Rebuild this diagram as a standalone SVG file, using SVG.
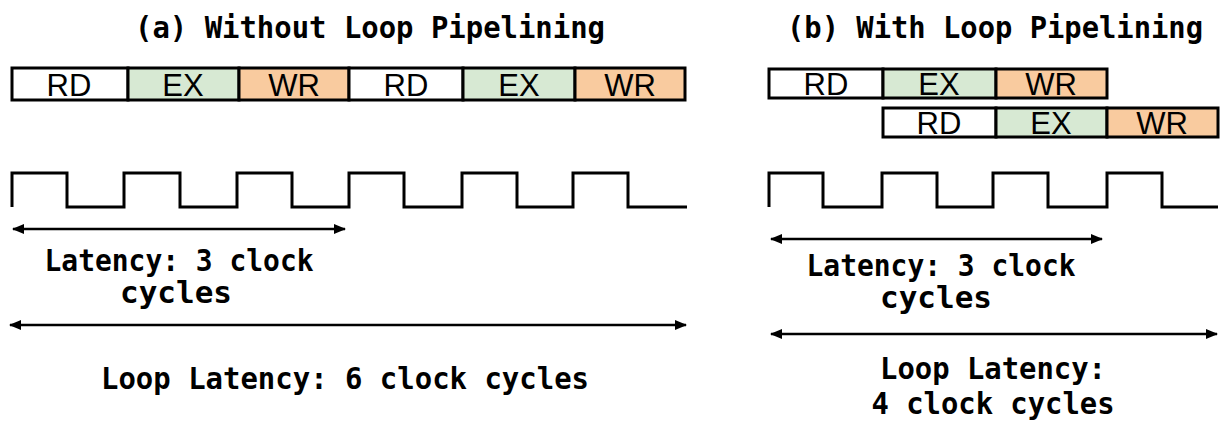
<svg xmlns="http://www.w3.org/2000/svg" width="1221" height="423" viewBox="0 0 1221 423">
<style>
.t{font-family:"DejaVu Sans Mono","Liberation Mono",monospace;font-weight:bold;font-size:30px;fill:#000;text-anchor:middle}
.s{font-family:"Liberation Sans",Arial,sans-serif;font-size:31px;fill:#000;text-anchor:middle}
.b{stroke:#000;stroke-width:3}
.rd{fill:#fff}.ex{fill:#d7e9d3}.wr{fill:#f9cb9f}
.clk{fill:none;stroke:#000;stroke-width:3}
.ar{stroke:#000;stroke-width:2.5;fill:none;marker-start:url(#ah);marker-end:url(#ah)}
</style>
<defs>
<marker id="ah" viewBox="0 0 12 10" refX="11" refY="5" markerWidth="12" markerHeight="10" markerUnits="userSpaceOnUse" orient="auto-start-reverse">
<path d="M0,0 L12,5 L0,10 Z" fill="#000"/>
</marker>
</defs>
<rect width="1221" height="423" fill="#fff"/>
<text class="t" x="370" y="38" textLength="470" lengthAdjust="spacingAndGlyphs">(a) Without Loop Pipelining</text>
<text class="t" x="995" y="38" textLength="416" lengthAdjust="spacingAndGlyphs">(b) With Loop Pipelining</text>

<g id="a-stages">
<rect class="b rd" x="12" y="68" width="116" height="32"/>
<rect class="b ex" x="128" y="68" width="111" height="32"/>
<rect class="b wr" x="239" y="68" width="110" height="32"/>
<rect class="b rd" x="349" y="68" width="114" height="32"/>
<rect class="b ex" x="463" y="68" width="112" height="32"/>
<rect class="b wr" x="575" y="68" width="110" height="32"/>
<text class="s" x="69" y="96">RD</text>
<text class="s" x="183" y="96">EX</text>
<text class="s" x="294" y="96">WR</text>
<text class="s" x="406" y="96">RD</text>
<text class="s" x="519" y="96">EX</text>
<text class="s" x="630" y="96">WR</text>
</g>

<g id="b-stages-1">
<rect class="b rd" x="769" y="69" width="114" height="29"/>
<rect class="b ex" x="883" y="69" width="113" height="29"/>
<rect class="b wr" x="996" y="69" width="111" height="29"/>
<text class="s" x="826" y="95">RD</text>
<text class="s" x="939" y="95">EX</text>
<text class="s" x="1051" y="95">WR</text>
</g>
<g id="b-stages-2">
<rect class="b rd" x="883" y="108" width="113" height="29"/>
<rect class="b ex" x="996" y="108" width="111" height="29"/>
<rect class="b wr" x="1107" y="108" width="111" height="29"/>
<text class="s" x="939" y="134">RD</text>
<text class="s" x="1051" y="134">EX</text>
<text class="s" x="1162" y="134">WR</text>
</g>

<g id="a-clock">
<path class="clk" d="M12,207 V173 H67 V207 H124 V173 H180 V207 H237 V173 H292 V207 H349 V173 H404 V207 H462 V173 H517 V207 H573 V173 H628 V207 H687"/>
</g>
<g id="b-clock">
<path class="clk" d="M769,207 V173 H823 V207 H882 V173 H937 V207 H993 V173 H1048 V207 H1107 V173 H1162 V207 H1218"/>
</g>

<g id="connectors">
<line class="ar" x1="13" y1="229" x2="345" y2="229"/>
<line class="ar" x1="10" y1="325" x2="686" y2="325"/>
<line class="ar" x1="771" y1="239" x2="1102" y2="239"/>
<line class="ar" x1="771" y1="334" x2="1217" y2="334"/>
</g>

<g id="labels">
<text class="t" x="179" y="271" textLength="269" lengthAdjust="spacingAndGlyphs">Latency: 3 clock</text>
<text class="t" x="176" y="303" textLength="112" lengthAdjust="spacingAndGlyphs">cycles</text>
<text class="t" x="345" y="389" textLength="488" lengthAdjust="spacingAndGlyphs">Loop Latency: 6 clock cycles</text>
<text class="t" x="941" y="276" textLength="269" lengthAdjust="spacingAndGlyphs">Latency: 3 clock</text>
<text class="t" x="936" y="308" textLength="112" lengthAdjust="spacingAndGlyphs">cycles</text>
<text class="t" x="993" y="379" textLength="226" lengthAdjust="spacingAndGlyphs">Loop Latency:</text>
<text class="t" x="993" y="414" textLength="243" lengthAdjust="spacingAndGlyphs">4 clock cycles</text>
</g>
</svg>
